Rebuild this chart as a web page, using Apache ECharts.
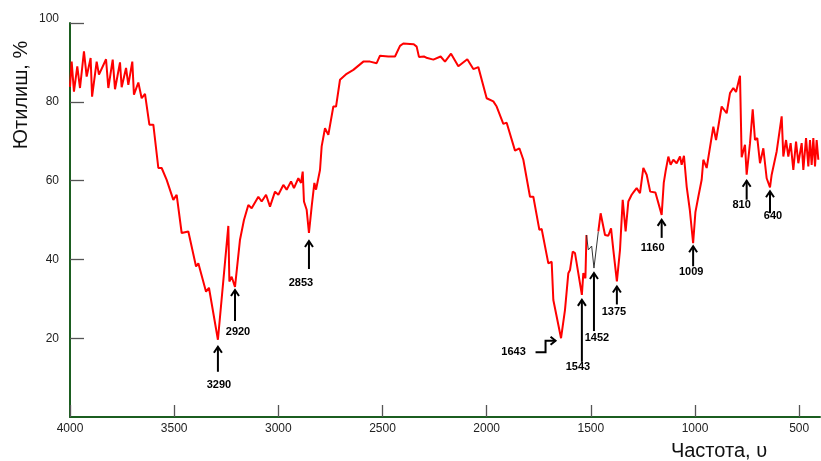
<!DOCTYPE html>
<html>
<head>
<meta charset="utf-8">
<script src="https://cdn.jsdelivr.net/npm/echarts@6.0.0/dist/echarts.min.js"></script>
<style>
  html, body { margin: 0; padding: 0; background: #ffffff; }
  #chart { width: 821px; height: 461px; }
</style>
</head>
<body>
<div id="chart"></div>
<script>
// IR transmission spectrum: [wavenumber, transmittance %]
const spectrumHigh = [
  [4000, 83.8], [3992, 90.2], [3981, 82.6], [3965, 89.0], [3952, 83.5], [3933, 92.8],
  [3920, 86.4], [3901, 91.1], [3894, 81.3], [3872, 90.2], [3861, 86.9], [3827, 90.8],
  [3816, 83.5], [3795, 90.7], [3784, 83.2], [3760, 90.0], [3752, 83.7], [3731, 88.6],
  [3720, 84.3], [3701, 90.2], [3693, 81.8], [3672, 84.9], [3656, 80.9], [3640, 82.0],
  [3619, 74.2], [3600, 74.2], [3576, 63.2], [3560, 63.2], [3536, 60.2], [3504, 55.1],
  [3488, 56.4], [3464, 46.7], [3432, 47.1], [3395, 38.2], [3384, 39.0], [3347, 31.8],
  [3333, 32.8], [3290, 19.6], [3240, 48.5], [3235, 34.4], [3224, 35.6], [3208, 33.0],
  [3184, 45.0], [3165, 50.0], [3144, 53.8], [3128, 53.0], [3096, 55.9], [3080, 54.7],
  [3059, 56.4], [3040, 53.4], [3016, 57.2], [3000, 56.4], [2976, 58.9], [2960, 57.7],
  [2939, 59.8], [2925, 58.1], [2904, 60.6], [2891, 59.4], [2883, 62.3], [2877, 54.7],
  [2864, 52.6], [2853, 46.7], [2840, 53.4], [2827, 59.4], [2819, 57.7], [2800, 62.7],
  [2792, 68.7], [2776, 73.3], [2760, 71.6], [2736, 78.8], [2723, 78.8], [2704, 85.6],
  [2672, 87.1], [2640, 88.1], [2592, 90.2], [2560, 90.2], [2528, 89.8], [2512, 91.7],
  [2472, 91.5], [2440, 91.5], [2416, 94.2], [2400, 94.8], [2368, 94.7], [2350, 94.6],
  [2336, 94.0], [2325, 91.4], [2301, 91.5], [2285, 91.1], [2256, 90.7], [2221, 91.5],
  [2200, 90.2], [2171, 92.2], [2136, 89.0], [2093, 90.8], [2064, 88.3], [2040, 88.8],
  [2000, 80.9], [1968, 80.1], [1952, 78.8], [1920, 74.4], [1904, 74.7], [1864, 67.6],
  [1843, 68.2], [1824, 65.3], [1792, 55.9], [1776, 55.9], [1747, 47.5], [1736, 47.7],
  [1704, 39.0], [1688, 39.4], [1680, 29.7], [1672, 29.9], [1643, 20.0], [1624, 27.2],
  [1608, 36.5], [1600, 37.3], [1587, 42.0], [1576, 41.6], [1543, 31.0], [1536, 36.5],
  [1526, 35.2], [1521, 46.2]
];

// Hand-corrected stretch of the trace (thin dark line)
const spectrumCorrected = [
  [1521, 46.2], [1512, 42.4], [1496, 43.4], [1485, 37.8], [1464, 47.1]
];

const spectrumLow = [
  [1464, 47.1], [1453, 51.7], [1432, 46.2], [1416, 46.0], [1403, 47.9], [1392, 42.4],
  [1375, 34.4], [1360, 42.4], [1347, 55.1], [1333, 47.1], [1320, 54.7], [1304, 56.4],
  [1293, 57.2], [1280, 58.1], [1264, 56.8], [1248, 63.2], [1232, 61.5], [1215, 57.2],
  [1190, 57.0], [1160, 51.3], [1150, 59.4], [1140, 62.7], [1128, 66.1], [1117, 64.0],
  [1104, 65.3], [1088, 64.4], [1072, 66.1], [1064, 64.0], [1053, 66.3], [1040, 58.5],
  [1025, 52.6], [1009, 44.1], [998, 52.0], [984, 55.9], [968, 60.2], [960, 65.3],
  [944, 63.2], [912, 73.7], [899, 70.3], [872, 78.8], [848, 77.1], [832, 82.2],
  [816, 83.5], [803, 82.5], [784, 86.6], [776, 65.9], [760, 69.1], [752, 61.5],
  [736, 69.5], [723, 78.1], [712, 70.3], [701, 70.8], [688, 64.4], [672, 68.2],
  [656, 60.6], [640, 58.3], [632, 61.5], [608, 67.4], [584, 76.3], [576, 66.1],
  [563, 70.3], [552, 66.1], [541, 69.5], [528, 62.7], [515, 69.9], [504, 64.4],
  [488, 69.5], [480, 62.7], [467, 70.8], [456, 63.6], [448, 70.3], [440, 64.0],
  [432, 70.8], [424, 63.6], [416, 70.3], [408, 65.3]
];

// Band annotations: printed label and the wavenumber of the marked minimum
const peakLabels = ['3290', '2920', '2853', '1643', '1543', '1452', '1375', '1160', '1009', '810', '640'];
const peakWavenumbers = [3290, 3208, 2853, 1643, 1543, 1485, 1375, 1160, 1009, 752, 640];

// Tick values
const xTicks = [4000, 3500, 3000, 2500, 2000, 1500, 1000, 500];
const yTicks = [20, 40, 60, 80, 100];

// Arrow drawing layout, per label: gap below the minimum, shaft length, label offsets (px)
const arrowLayout = {
  '3290': { gap: 7, len: 25, ly: 38, lx: 1 },
  '2920': { gap: 3, len: 31, ly: 42, lx: 3 },
  '2853': { gap: 8, len: 28, ly: 42, lx: -8 },
  '1643': { bent: true },
  '1543': { gap: 5, len: 62, ly: 67, lx: -4 },
  '1452': { gap: 5, len: 58, ly: 65, lx: 3 },
  '1375': { gap: 5, len: 18, ly: 26, lx: -3 },
  '1160': { gap: 5, len: 18, ly: 28, lx: -9 },
  '1009': { gap: 3, len: 20, ly: 26, lx: -2 },
  '810':  { gap: 6, len: 19, ly: 24, lx: -5 },
  '640':  { gap: 4, len: 22, ly: 25, lx: 3 }
};

const allPoints = spectrumHigh.concat(spectrumCorrected, spectrumLow);
function transmittanceAt(w) {
  const hit = allPoints.find(p => p[0] === w);
  return hit ? hit[1] : null;
}
const peakData = peakWavenumbers.map((w, i) => [w, transmittanceAt(w), i]);

const FONT = '"Liberation Sans", Arial, Helvetica, sans-serif';
const AXIS_GREEN = '#1b5e20';

function renderArrow(params, api) {
  const idx = api.value(2);
  const label = peakLabels[idx];
  const lay = arrowLayout[label];
  const p = api.coord([api.value(0), api.value(1)]);
  const ink = { stroke: '#000', lineWidth: 2, fill: null };
  const textStyle = (x, y) => ({
    text: label, x: x, y: y, fill: '#000',
    font: 'bold 11px ' + FONT, textAlign: 'center', textVerticalAlign: 'middle'
  });
  if (lay.bent) {
    const tx = p[0] - 5.5, ty = p[1] + 2.5;
    return {
      type: 'group',
      children: [
        { type: 'polyline', shape: { points: [[tx - 20, ty + 11.5], [tx - 10, ty + 11.5], [tx - 10, ty], [tx, ty]] }, style: ink },
        { type: 'polyline', shape: { points: [[tx - 5, ty - 4], [tx, ty], [tx - 5, ty + 4]] }, style: ink },
        { type: 'text', style: textStyle(tx - 42, ty + 11) }
      ]
    };
  }
  const tx = p[0], ty = p[1] + lay.gap;
  return {
    type: 'group',
    children: [
      { type: 'polyline', shape: { points: [[tx, ty], [tx, ty + lay.len]] }, style: ink },
      { type: 'polyline', shape: { points: [[tx - 4, ty + 6], [tx, ty], [tx + 4, ty + 6]] }, style: ink },
      { type: 'text', style: textStyle(tx + lay.lx, ty + lay.ly) }
    ]
  };
}

const chart = echarts.init(document.getElementById('chart'), null, { renderer: 'canvas' });

chart.setOption({
  animation: false,
  backgroundColor: '#ffffff',
  grid: { left: 70, right: 1, top: 23, bottom: 44, containLabel: false },
  xAxis: {
    type: 'value',
    inverse: true,
    min: 400,
    max: 4000,
    axisLine: { show: true, onZero: false, lineStyle: { color: AXIS_GREEN, width: 2 } },
    axisTick: { show: true, inside: true, length: 12, customValues: xTicks, lineStyle: { color: '#555', width: 1.3 } },
    axisLabel: {
      customValues: xTicks, margin: 6, color: '#222', fontSize: 12, fontFamily: FONT,
      formatter: v => String(v)
    },
    splitLine: { show: false }
  },
  yAxis: {
    type: 'value',
    min: 0,
    max: 100,
    axisLine: { show: true, onZero: false, lineStyle: { color: AXIS_GREEN, width: 2 } },
    axisTick: { show: true, inside: true, length: 14, customValues: yTicks, lineStyle: { color: '#555', width: 1.3 } },
    axisLabel: {
      customValues: yTicks, margin: 11, color: '#222', fontSize: 12, fontFamily: FONT,
      formatter: v => (v === 100 ? '{top|100}' : String(v)),
      rich: { top: { fontSize: 12, fontFamily: FONT, color: '#222', padding: [0, 0, 9, 0] } }
    },
    splitLine: { show: false }
  },
  graphic: [
    {
      type: 'text', x: 21, y: 95, rotation: Math.PI / 2,
      style: { text: 'Ютилиш, %', font: '20px ' + FONT, fill: '#111', textAlign: 'center', textVerticalAlign: 'middle' }
    },
    {
      type: 'text', x: 719, y: 451,
      style: { text: 'Частота, υ', font: '20px ' + FONT, fill: '#111', textAlign: 'center', textVerticalAlign: 'middle' }
    }
  ],
  series: [
    {
      type: 'line', data: spectrumHigh, showSymbol: false, smooth: false,
      lineStyle: { color: '#ff0000', width: 2 }, z: 3
    },
    {
      type: 'line', data: spectrumCorrected, showSymbol: false, smooth: false,
      lineStyle: { color: '#333333', width: 1 }, z: 3
    },
    {
      type: 'line', data: spectrumLow, showSymbol: false, smooth: false,
      lineStyle: { color: '#ff0000', width: 2 }, z: 3
    },
    {
      type: 'custom', data: peakData, clip: false, z: 4,
      encode: { x: 0, y: 1 },
      renderItem: renderArrow
    }
  ]
});
</script>
</body>
</html>
